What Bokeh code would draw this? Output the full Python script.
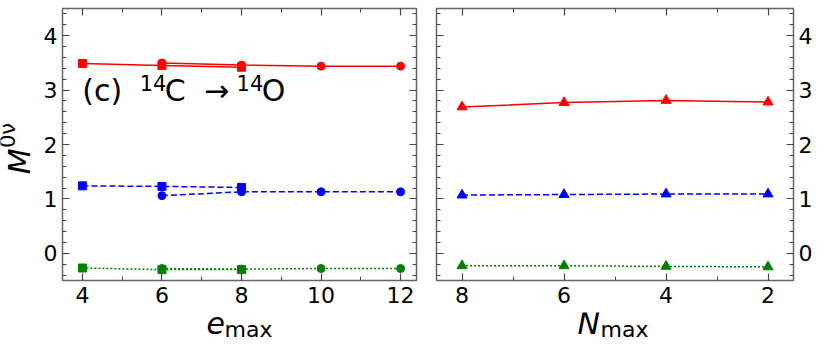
from math import pi
from bokeh.plotting import figure
from bokeh.models import Range1d, FixedTicker, LinearAxis, Label
from bokeh.layouts import row, column
from bokeh.embed import file_html
from bokeh.resources import INLINE

# ---- data ----
emax_sq = [4, 6, 8]
emax_ci = [6, 8, 10, 12]
red_sq = [3.49, 3.45, 3.42]
red_ci = [3.50, 3.46, 3.44, 3.44]
blue_sq = [1.24, 1.23, 1.21]
blue_ci = [1.06, 1.13, 1.13, 1.13]
green_sq = [-0.27, -0.30, -0.30]
green_ci = [-0.28, -0.29, -0.28, -0.28]

nmax = [8, 6, 4, 2]
red_tri = [2.69, 2.77, 2.81, 2.78]
blue_tri = [1.07, 1.08, 1.09, 1.09]
green_tri = [-0.23, -0.23, -0.24, -0.25]

emax_ticks = [4, 6, 8, 10, 12]
emax_minor = [5, 7, 9, 11]
nmax_ticks = [8, 6, 4, 2]
nmax_minor = [7, 5, 3]
y_ticks = [0, 1, 2, 3, 4]
y_minor = [round(-0.4 + 0.2 * i, 1) for i in range(25)]

FONT = "DejaVu Sans"
TOTAL_W, TOTAL_H = 815, 338
TOP = 8            # frame top
FRAME_H = 272      # frame height
BOT = 32           # room for x tick labels
PH = TOP + FRAME_H + BOT     # panel height
XLAB_H = TOTAL_H - PH        # strip for x-axis titles
YLAB_W = 40                  # strip for y-axis title
BASE_FIX = 0.34              # label anchor correction (fraction of font size)


def style_axis(ax, ticks, minor, labels=True, standoff=5):
    ax.ticker = FixedTicker(ticks=ticks, minor_ticks=minor)
    ax.major_tick_in = 7
    ax.major_tick_out = 0
    ax.minor_tick_in = 4
    ax.minor_tick_out = 0
    ax.major_tick_line_color = "#444444"
    ax.minor_tick_line_color = "#444444"
    ax.major_tick_line_width = 1.2
    ax.minor_tick_line_width = 1.0
    ax.axis_line_color = None
    if labels:
        ax.major_label_text_font = FONT
        ax.major_label_text_font_size = "22px"
        ax.major_label_text_color = "black"
        ax.major_label_standoff = standoff
    else:
        ax.major_label_overrides = {t: "" for t in ticks}
        ax.major_label_text_font_size = "1px"
        ax.major_label_standoff = 0


def base_fig(width, xr, bl, br, yloc):
    p = figure(width=width, height=PH, x_range=xr, y_range=Range1d(-0.5, 4.5),
               output_backend="svg", toolbar_location=None, title=None,
               min_border_left=bl, min_border_right=br,
               min_border_top=TOP, min_border_bottom=BOT,
               y_axis_location=yloc)
    p.grid.visible = False
    p.outline_line_color = "#666666"
    p.outline_line_width = 1.5
    p.background_fill_color = "white"
    p.border_fill_color = "white"
    return p


def blank_fig(width, height):
    p = figure(width=width, height=height, x_range=Range1d(0, width),
               y_range=Range1d(0, height), output_backend="svg",
               toolbar_location=None, x_axis_location=None, title=None,
               y_axis_location=None, min_border=0)
    p.grid.visible = False
    p.outline_line_color = None
    p.background_fill_color = "white"
    p.border_fill_color = "white"
    return p


def add_label(p, x, y, text, size, italic=False, angle=0.0, x_off=0, y_off=0):
    p.add_layout(Label(x=x, y=y, x_offset=x_off, y_offset=y_off, text=text,
                       text_font=FONT, text_font_size=f"{size}px",
                       text_color="black",
                       text_font_style="italic" if italic else "normal",
                       text_align="left", text_baseline="alphabetic",
                       angle=angle))


# ---------------- left panel ----------------
L_BL, L_FW, L_BR = 20, 356, 10
LW = L_BL + L_FW + L_BR
p1 = base_fig(LW, Range1d(3.5, 12.4), L_BL, L_BR, "left")
style_axis(p1.xaxis[0], emax_ticks, emax_minor, True, 6)
style_axis(p1.yaxis[0], y_ticks, y_minor, True, 5)
top1 = LinearAxis(); style_axis(top1, emax_ticks, emax_minor, False)
right1 = LinearAxis(); style_axis(right1, y_ticks, y_minor, False)
p1.add_layout(top1, "above")
p1.add_layout(right1, "right")

for xs, ys, c, dash, mk in [
    (emax_sq, red_sq, "red", "solid", "square"),
    (emax_ci, red_ci, "red", "solid", "circle"),
    (emax_sq, blue_sq, "blue", "6 3", "square"),
    (emax_ci, blue_ci, "blue", "6 3", "circle"),
    (emax_sq, green_sq, "green", "2 2", "square"),
    (emax_ci, green_ci, "green", "2 2", "circle"),
]:
    p1.line(xs, ys, line_color=c, line_width=1.5, line_dash=dash)
    p1.scatter(xs, ys, marker=mk, size=8, color=c)


# annotation placed in data space (positions measured on the reference frame)
def ax_(px):
    return 3.5 + (px - 62) * 8.9 / 358.0


def ay_(py):
    return 4.5 - (py - 8) * 5.0 / 276.0


for px, py, txt, sz in [(82, 102, "(c)", 30), (140, 91, "14", 21),
                        (165.5, 102, "C", 30), (205, 102, "\u2192", 30),
                        (238, 91, "14", 21), (263.5, 102, "O", 30)]:
    add_label(p1, ax_(px), ay_(py), txt, sz, y_off=BASE_FIX * sz)

# ---------------- right panel ----------------
R_BL, R_BR = 10, 19
RW = TOTAL_W - YLAB_W - LW
p2 = base_fig(RW, Range1d(8.5, 1.5), R_BL, R_BR, "right")
style_axis(p2.xaxis[0], nmax_ticks, nmax_minor, True, 6)
style_axis(p2.yaxis[0], y_ticks, y_minor, True, 5)
top2 = LinearAxis(); style_axis(top2, nmax_ticks, nmax_minor, False)
left2 = LinearAxis(); style_axis(left2, y_ticks, y_minor, False)
p2.add_layout(top2, "above")
p2.add_layout(left2, "left")

for ys, c, dash in [(red_tri, "red", "solid"), (blue_tri, "blue", "6 3"),
                    (green_tri, "green", "2 2")]:
    p2.line(nmax, ys, line_color=c, line_width=1.5, line_dash=dash)
    p2.scatter(nmax, ys, marker="triangle", size=10, color=c)

# ---------------- y-axis title strip ----------------
ylab = blank_fig(YLAB_W, PH)
add_label(ylab, 19, PH - 190, "M", 30, True, pi / 2)
add_label(ylab, 7, PH - 160, "0\u03bd", 21, False, pi / 2)

# ---------------- x-axis title strip ----------------
xlab = blank_fig(TOTAL_W, XLAB_H)
base_y = TOTAL_H - 333
add_label(xlab, 206, base_y, "e", 30, True, y_off=BASE_FIX * 30)
add_label(xlab, 224, base_y - 3, "max", 22, y_off=BASE_FIX * 22)
add_label(xlab, 577, base_y, "N", 30, True, y_off=BASE_FIX * 30)
add_label(xlab, 600, base_y - 3, "max", 22, y_off=BASE_FIX * 22)

layout = column(row(ylab, p1, p2, spacing=0), xlab, spacing=0)
open("out.html", "w").write(file_html(layout, INLINE))
